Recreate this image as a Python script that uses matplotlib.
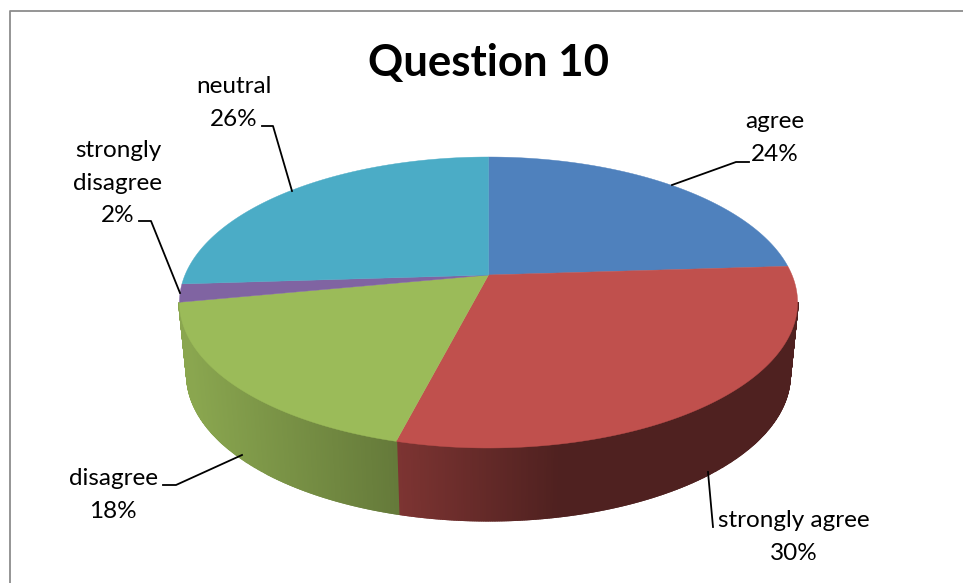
import numpy as np
import matplotlib
matplotlib.use('Agg')
import matplotlib.pyplot as plt

labels = ['agree', 'strongly agree', 'disagree', 'strongly\ndisagree', 'neutral']
values = [24, 30, 18, 2, 26]
colors = ['#4f81bd', '#c0504d', '#9bbb59', '#8064a2', '#4bacc6']

plt.rcParams['font.family'] = ['Lato', 'DejaVu Sans']

# Pie geometry in pixels, with the perspective of the 3D chart
cx, cy = 488.5, 275
rx, ry, k = 303.5, 140.3, 0.189
depth = 72.5
shrink = 0.975

# Darkening of the side wall according to the horizontal position
shade_x = [187, 397, 560, 800]
shade_f = [0.89, 0.65, 0.41, 0.41]

# Text centres and leader lines of each label
label_pos = [(775, 138), (794, 537), (113, 495), (118, 183), (234, 103)]
leaders = [
    [(749, 162), (736, 162), (672, 185)],
    [(713, 527), (708, 472)],
    [(163, 485), (176, 485), (242, 455)],
    [(139, 221), (151, 221), (180, 293)],
    [(262, 126), (273, 126), (292, 191)],
]


def project(theta):
    '''Pasa un angulo del pastel (horario desde arriba) a pixeles'''
    x = np.sin(theta)
    y = -np.cos(theta)
    w = 1 - k * y
    return rx * x / w, ry * y / w


def darker(color, f):
    r, g, b = matplotlib.colors.to_rgb(color)
    return (r * f, g * f, b * f)


fig = plt.figure(figsize=(9.63, 5.83), dpi=100)
ax = fig.add_axes([0, 0, 1, 1])
ax.set_xlim(0, 963)
ax.set_ylim(583, 0)
ax.axis('off')

# Chart border
ax.plot([9.5, 9.5, 963], [583, 10.5, 10.5], color='#8c8c8c', lw=1.3)

edges = np.cumsum([0] + values) / sum(values) * 2 * np.pi

# Side wall: thin strips on the front half only, each one covers the seam of the last
for i in range(len(values)):
    n = int(values[i] * 10) + 2
    thetas = np.linspace(edges[i], edges[i + 1], n)
    for a, b in zip(thetas[:-1], thetas[1:]):
        if -np.cos((a + b) / 2) < k:
            continue
        xa, ya = project(a)
        xb, yb = project(b)
        f = np.interp(cx + (xa + xb) / 2, shade_x, shade_f)
        c = darker(colors[i], f)
        ax.fill([cx + xa, cx + xb, cx + xb * shrink, cx + xa * shrink],
                [cy + ya, cy + yb, cy + yb + depth, cy + ya + depth],
                facecolor=c, edgecolor=c, lw=1.5)

# Top face
for i in range(len(values)):
    thetas = np.linspace(edges[i], edges[i + 1], 200)
    x, y = project(thetas)
    ax.fill(np.r_[cx, cx + x], np.r_[cy, cy + y], color=colors[i], lw=0.3)

for line in leaders:
    xs, ys = zip(*line)
    ax.plot(xs, ys, color='black', lw=1.3)

for label, value, pos in zip(labels, values, label_pos):
    ax.text(pos[0], pos[1], label + '\n' + str(value) + '%', ha='center', va='center',
            fontsize=17.5, linespacing=1.66, color='black')

ax.text(489, 63, 'Question 10', ha='center', va='center', fontsize=31.5, fontweight='bold')

fig.savefig('out.png', dpi=100)
